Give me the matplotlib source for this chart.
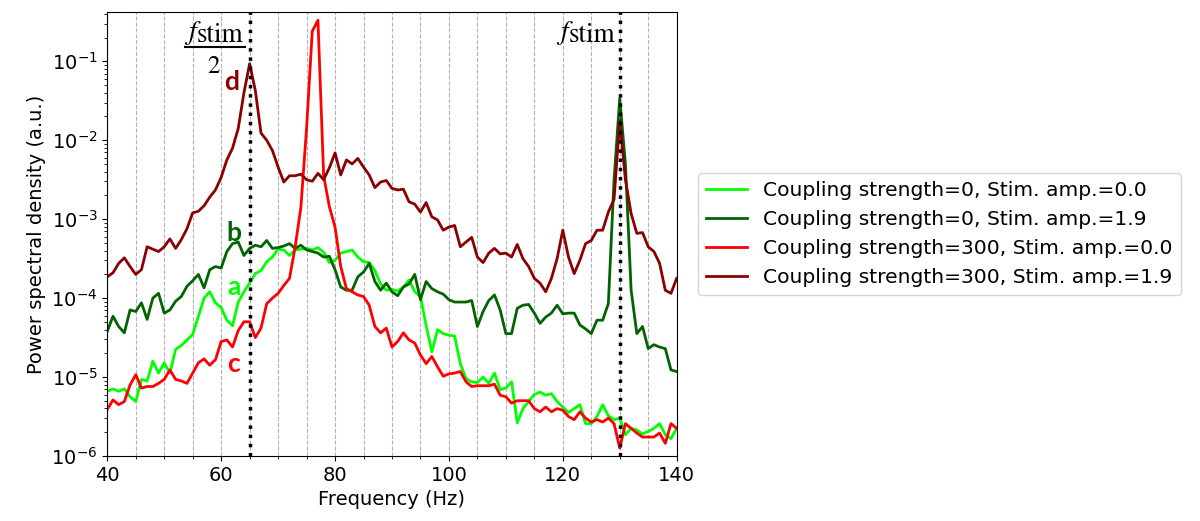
import numpy as np
import matplotlib
matplotlib.use("Agg")
import matplotlib.pyplot as plt
from matplotlib.ticker import MultipleLocator

# frequency bins (Hz)
freqs = np.arange(40, 141)

# log10 of the PSD, one value per Hz from 40 to 140
a_log = [-5.18, -5.15, -5.18, -5.15, -5.25, -5.31, -5.03, -5.05, -4.80, -4.95,
         -4.82, -4.95, -4.65, -4.60, -4.53, -4.46, -4.23, -4.00, -3.92, -4.06,
         -4.12, -4.28, -4.35, -4.05, -3.92, -3.81, -3.69, -3.65, -3.54, -3.48,
         -3.38, -3.39, -3.46, -3.39, -3.38, -3.37, -3.39, -3.36, -3.42, -3.55,
         -3.52, -3.43, -3.41, -3.39, -3.48, -3.54, -3.55, -3.65, -3.82, -3.90,
         -3.89, -3.91, -3.86, -3.77, -3.92, -3.98, -4.35, -4.68, -4.40, -4.45,
         -4.47, -4.48, -4.83, -5.02, -5.06, -5.07, -5.00, -5.08, -4.95, -5.16,
         -5.14, -5.06, -5.58, -5.40, -5.31, -5.22, -5.19, -5.23, -5.21, -5.31,
         -5.38, -5.45, -5.40, -5.35, -5.59, -5.59, -5.50, -5.35, -5.49, -5.54,
         -5.52, -5.73, -5.65, -5.67, -5.72, -5.69, -5.65, -5.59, -5.73, -5.78,
         -5.65]

b_log = [-4.42, -4.23, -4.36, -4.44, -4.15, -4.17, -4.06, -4.27, -4.00, -3.94,
         -4.19, -4.15, -4.04, -3.98, -3.85, -3.78, -3.70, -3.87, -3.64, -3.60,
         -3.62, -3.41, -3.31, -3.29, -3.46, -3.37, -3.33, -3.35, -3.27, -3.37,
         -3.36, -3.34, -3.31, -3.37, -3.33, -3.39, -3.41, -3.43, -3.48, -3.47,
         -3.64, -3.86, -3.90, -3.90, -3.73, -3.67, -3.56, -3.79, -3.90, -3.81,
         -3.92, -3.97, -3.86, -3.82, -3.70, -4.02, -3.79, -3.88, -3.92, -3.95,
         -4.02, -4.05, -4.05, -4.05, -4.03, -4.36, -4.17, -4.03, -3.96, -4.15,
         -4.45, -4.45, -4.13, -4.09, -4.08, -4.19, -4.32, -4.24, -4.19, -4.09,
         -4.20, -4.19, -4.19, -4.34, -4.39, -4.45, -4.28, -4.28, -4.07, -2.50,
         -1.47, -2.30, -3.90, -4.45, -4.36, -4.64, -4.59, -4.62, -4.64, -4.91,
         -4.93]

c_log = [-5.41, -5.29, -5.35, -5.31, -5.10, -4.97, -5.14, -5.12, -5.12, -5.08,
         -5.03, -4.91, -5.03, -5.05, -5.08, -4.95, -4.82, -4.77, -4.85, -4.78,
         -4.55, -4.53, -4.62, -4.41, -4.30, -4.30, -4.50, -4.38, -4.07, -4.00,
         -3.94, -3.84, -3.75, -3.35, -2.85, -1.85, -0.62, -0.48, -2.45, -2.84,
         -3.10, -3.60, -3.88, -3.92, -3.96, -3.98, -4.09, -4.36, -4.44, -4.38,
         -4.62, -4.55, -4.44, -4.53, -4.57, -4.72, -4.83, -4.74, -4.87, -4.99,
         -4.96, -4.95, -4.93, -5.06, -5.12, -5.11, -5.11, -5.11, -5.09, -5.23,
         -5.25, -5.33, -5.30, -5.30, -5.30, -5.40, -5.44, -5.38, -5.44, -5.40,
         -5.42, -5.50, -5.54, -5.44, -5.52, -5.57, -5.54, -5.57, -5.52, -5.59,
         -5.90, -5.59, -5.65, -5.71, -5.76, -5.76, -5.76, -5.71, -5.84, -5.59,
         -5.65]

d_log = [-3.73, -3.68, -3.56, -3.49, -3.60, -3.70, -3.64, -3.35, -3.38, -3.41,
         -3.35, -3.25, -3.37, -3.26, -3.12, -2.92, -2.90, -2.83, -2.72, -2.63,
         -2.47, -2.25, -2.10, -1.85, -1.40, -1.03, -1.37, -1.91, -2.00, -2.13,
         -2.34, -2.53, -2.45, -2.45, -2.43, -2.50, -2.52, -2.42, -2.50, -2.35,
         -2.16, -2.44, -2.25, -2.30, -2.23, -2.34, -2.44, -2.60, -2.53, -2.51,
         -2.61, -2.63, -2.62, -2.78, -2.81, -2.91, -2.79, -2.97, -3.01, -3.14,
         -3.10, -3.08, -3.35, -3.29, -3.23, -3.48, -3.55, -3.43, -3.37, -3.44,
         -3.43, -3.48, -3.32, -3.50, -3.60, -3.75, -3.81, -3.92, -3.75, -3.50,
         -3.14, -3.48, -3.69, -3.52, -3.31, -3.27, -3.14, -3.14, -2.91, -2.75,
         -1.75, -2.50, -2.93, -3.18, -3.17, -3.35, -3.41, -3.56, -3.90, -3.94,
         -3.75]

labels = ["Coupling strength=0, Stim. amp.=0.0",
          "Coupling strength=0, Stim. amp.=1.9",
          "Coupling strength=300, Stim. amp.=0.0",
          "Coupling strength=300, Stim. amp.=1.9"]
colors = ["lime", "darkgreen", "red", "darkred"]
letters = ["a", "b", "c", "d"]
# where the panel letters sit (Hz, PSD)
letter_pos = [(62.3, 1.4e-4), (62.3, 6.6e-4), (62.1, 1.45e-5), (61.9, 5.5e-2)]

f_stim = 130

fig = plt.figure(figsize=(12, 5.21), dpi=100)
ax = fig.add_axes([0.0894, 0.1248, 0.4745, 0.852])

for vals, col, lab in zip([a_log, b_log, c_log, d_log], colors, labels):
    ax.plot(freqs, 10 ** np.array(vals), color=col, lw=2, label=lab)

ax.set_yscale("log")
ax.set_xlim(40, 140)
ax.set_ylim(1e-6, 0.42)
ax.xaxis.set_major_locator(MultipleLocator(20))
ax.xaxis.set_minor_locator(MultipleLocator(5))
ax.grid(True, which="both", axis="x", ls="--", color="0.7", lw=0.8)
ax.tick_params(labelsize=14)

# stimulation frequency and its half
for fx in (f_stim / 2, f_stim):
    ax.axvline(fx, color="black", ls=":", lw=2.5, zorder=5)

# f_stim labels, built from pieces so "stim" stays nearly full size
tr = ax.get_xaxis_transform()
serif = dict(family="STIXGeneral", color="black")
ax.text(f_stim - 0.85, 0.933, "stim", transform=tr, ha="right", va="baseline", fontsize=19.5, **serif)
ax.text(f_stim - 9.2, 0.94, "f", transform=tr, ha="right", va="baseline", fontsize=20,
        style="italic", **serif)

ax.text(63.85, 0.933, "stim", transform=tr, ha="right", va="baseline", fontsize=19.5, **serif)
ax.text(55.6, 0.94, "f", transform=tr, ha="right", va="baseline", fontsize=20,
        style="italic", **serif)
ax.plot([53.65, 64.15], [0.922, 0.922], transform=tr, color="black", lw=1.5, clip_on=False)
ax.text(58.6, 0.8626, "2", transform=tr, ha="center", va="baseline", fontsize=18, **serif)

for (lx, ly), let, col in zip(letter_pos, letters, colors):
    ax.text(lx, ly, let, color=col, fontsize=19, fontweight="bold", family="Lato",
            ha="center", va="center")

ax.set_xlabel("Frequency (Hz)", fontsize=14)
ax.set_ylabel("Power spectral density (a.u.)", fontsize=14)
ax.legend(loc="center left", bbox_to_anchor=(1.02, 0.5), fontsize=14.6)

fig.savefig("out.png", dpi=100)
